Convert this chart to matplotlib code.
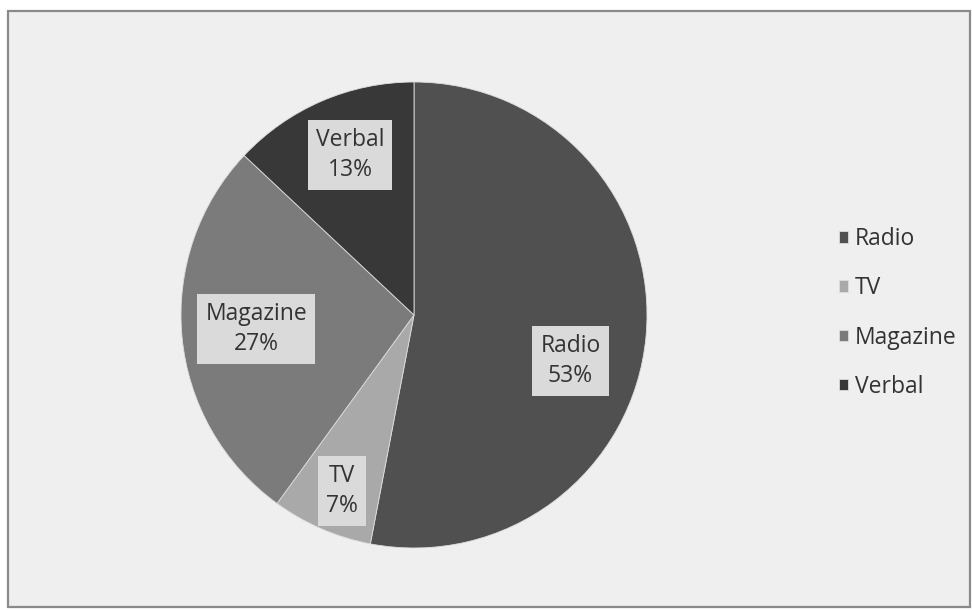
import numpy as np
import matplotlib.pyplot as plt
from matplotlib.patches import Rectangle

categories = ["Radio", "TV", "Magazine", "Verbal"]
shares = [53, 7, 27, 13]
colors = ["#505050", "#a9a9a9", "#7b7b7b", "#383838"]
# label position for each slice: (fraction of radius, angle in degrees)
label_pos = [(0.70, -16.4), (0.816, -112.2), (0.68, 185.1), (0.74, 111.8)]

plt.rcParams['font.family'] = ['Open Sans', 'DejaVu Sans']

W, H = 972, 610
fig = plt.figure(figsize=(W / 100, H / 100), dpi=100)
fig.patch.set_facecolor("white")

# chart area with grey frame
fig.patches.append(Rectangle((8 / W, 3 / H), 962 / W, 596 / H, transform=fig.transFigure,
                             facecolor="#efefef", edgecolor="#8a8a8a", lw=1.6, zorder=-5))

ax = fig.add_axes([0, 0, 1, 1])
ax.patch.set_alpha(0)
cx, cy, r = 414, H - 315, 233
wedges, _ = ax.pie(shares, colors=colors, startangle=90, counterclock=False,
                   center=(cx, cy), radius=r,
                   wedgeprops=dict(edgecolor="#dddddd", linewidth=0.6))
ax.set_xlim(0, W)
ax.set_ylim(0, H)
ax.set_aspect("equal")
ax.axis("off")

for name, val, (f, ang) in zip(categories, shares, label_pos):
    x = cx + f * r * np.cos(np.radians(ang))
    y = cy + f * r * np.sin(np.radians(ang))
    ax.text(x, y, f"{name}\n{val}%", ha="center", va="center", fontsize=16.5,
            color="#333333", linespacing=1.3,
            bbox=dict(boxstyle="square,pad=0.35", facecolor="#dadada", edgecolor="none"))

ax.legend(wedges, categories, loc="center left", bbox_to_anchor=(818 / W, (H - 313) / H),
          frameon=False, fontsize=16.5, labelspacing=1.1, handlelength=0.4,
          handleheight=0.4, handletextpad=0.3, labelcolor="#333333")

fig.savefig("out.png", dpi=100)
